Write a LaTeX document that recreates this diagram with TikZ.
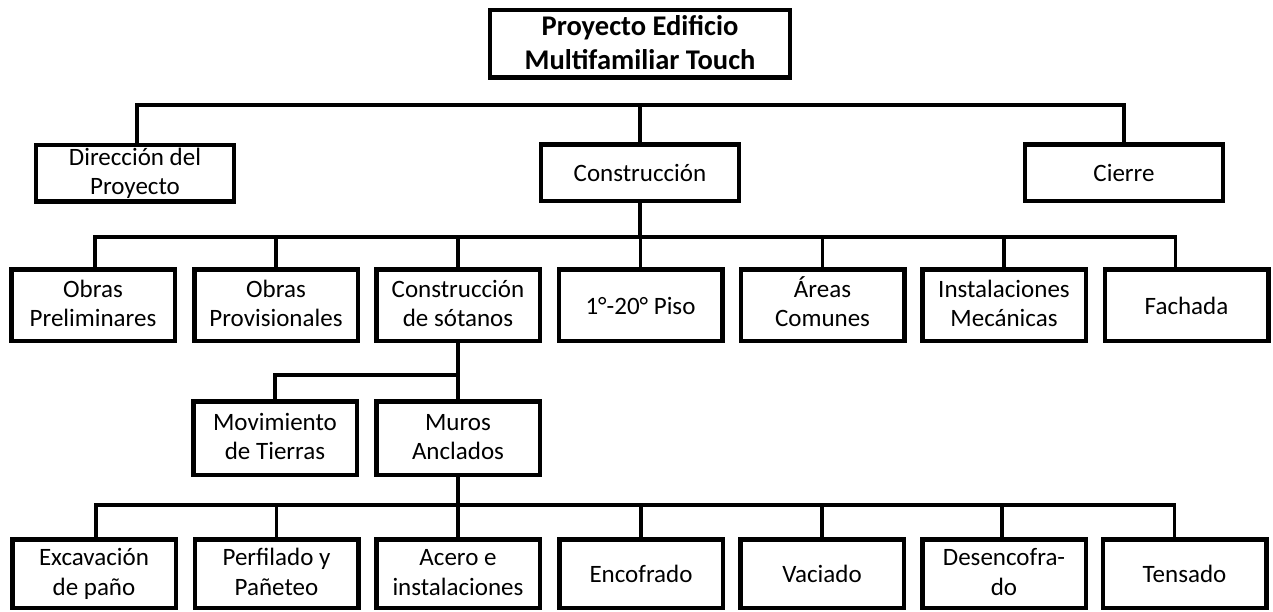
\documentclass[tikz,border=0pt]{standalone}
\usepackage{fontspec}
\setmainfont{Carlito}
\usepackage{tikz}
\tikzstyle{box}=[draw, line width=4.5pt, align=center, inner sep=0pt, font=\fontsize{25}{29.5}\selectfont]
\tikzstyle{duo}=[text height=43pt, text depth=0pt]
\tikzstyle{uno}=[text height=18pt, text depth=0pt]
\tikzstyle{tbox}=[box, minimum width=300pt, minimum height=67.5pt, text height=52pt, text depth=0pt, font=\fontsize{28.5}{34}\selectfont\bfseries]
\tikzstyle{hbox}=[box, minimum width=198pt, minimum height=56.5pt]
\tikzstyle{wbox}=[box, minimum width=163.5pt, minimum height=71.5pt]
\tikzstyle{mbox}=[wbox, minimum height=73.5pt]
\tikzstyle{lbox}=[wbox, minimum height=68.5pt]
\tikzstyle{link}=[line width=3.2pt]

\begin{document}
\begin{tikzpicture}[x=1pt, y=-1pt]
    \useasboundingbox (0,0) rectangle (1273,612);
    \node[tbox]                         (proj)   at (640, 44) {Proyecto Edificio\\Multifamiliar Touch};
    \node[hbox, duo]                    (dir)    at (135, 173.5) {Dirección del\\Proyecto};
    \node[hbox, uno]                    (cons)   at (640, 173) {Construcción};
    \node[hbox, uno]                    (cierre) at (1124, 173) {Cierre};
    \node[wbox, duo]                    (obpre)  at (93, 305) {Obras\\Preliminares};
    \node[wbox, duo]                    (obprov) at (276, 305) {Obras\\Provisionales};
    \node[wbox, duo]                    (sot)    at (458, 305) {Construcción\\de sótanos};
    \node[wbox, uno]                    (piso)   at (640.5, 305) {1°-20° Piso};
    \node[wbox, duo]                    (areas)  at (822.5, 305) {Áreas\\Comunes};
    \node[wbox, duo]                    (inst)   at (1004, 305) {Instalaciones\\Mecánicas};
    \node[wbox, uno]                    (fach)   at (1186.5, 305) {Fachada};
    \node[mbox, duo]                    (mov)    at (275, 438) {Movimiento\\de Tierras};
    \node[mbox, duo]                    (muros)  at (458, 438) {Muros\\Anclados};
    \node[lbox, duo]                    (exc)    at (94, 573.5) {Excavación\\de paño};
    \node[lbox, duo]                    (perf)   at (276.5, 573.5) {Perfilado y\\Pañeteo};
    \node[lbox, duo]                    (acero)  at (458, 573.5) {Acero e\\instalaciones};
    \node[lbox, uno]                    (enc)    at (641, 573.5) {Encofrado};
    \node[lbox, uno]                    (vac)    at (822, 573.5) {Vaciado};
    \node[lbox, duo]                    (desenc) at (1004, 573.5) {Desencofra-\\do};
    \node[lbox, uno]                    (tens)   at (1184.5, 573.5) {Tensado};
    \coordinate (bus1) at (640, 105);
    \coordinate (bus2) at (640, 237);
    \coordinate (bus3) at (458, 375);
    \coordinate (bus4) at (458, 505);
    \draw[link] ([xshift=2pt]dir.north) |- (bus1) -| (cierre.north);
    \draw[link] (bus1) -- (cons.north);
    \draw[link] (cons.south) -- (bus2);
    \draw[link] ([xshift=2pt]obpre.north) |- (bus2) -| ([xshift=-11pt]fach.north);
    \draw[link] (obprov.north) -- (obprov.north |- bus2);
    \draw[link] (sot.north) -- (sot.north |- bus2);
    \draw[link] (piso.north) -- (piso.north |- bus2);
    \draw[link] (areas.north) -- (areas.north |- bus2);
    \draw[link] (inst.north) -- (inst.north |- bus2);
    \draw[link] (sot.south) -- (muros.north);
    \draw[link] (mov.north) |- (bus3);
    \draw[link] (muros.south) -- (acero.north);
    \draw[link] ([xshift=2pt]exc.north) |- (bus4) -| ([xshift=-10pt]tens.north);
    \draw[link] (perf.north) -- (perf.north |- bus4);
    \draw[link] (enc.north) -- (enc.north |- bus4);
    \draw[link] (vac.north) -- (vac.north |- bus4);
    \draw[link] ([xshift=-2pt]desenc.north) -- ([xshift=-2pt]desenc.north |- bus4);
\end{tikzpicture}
\end{document}
